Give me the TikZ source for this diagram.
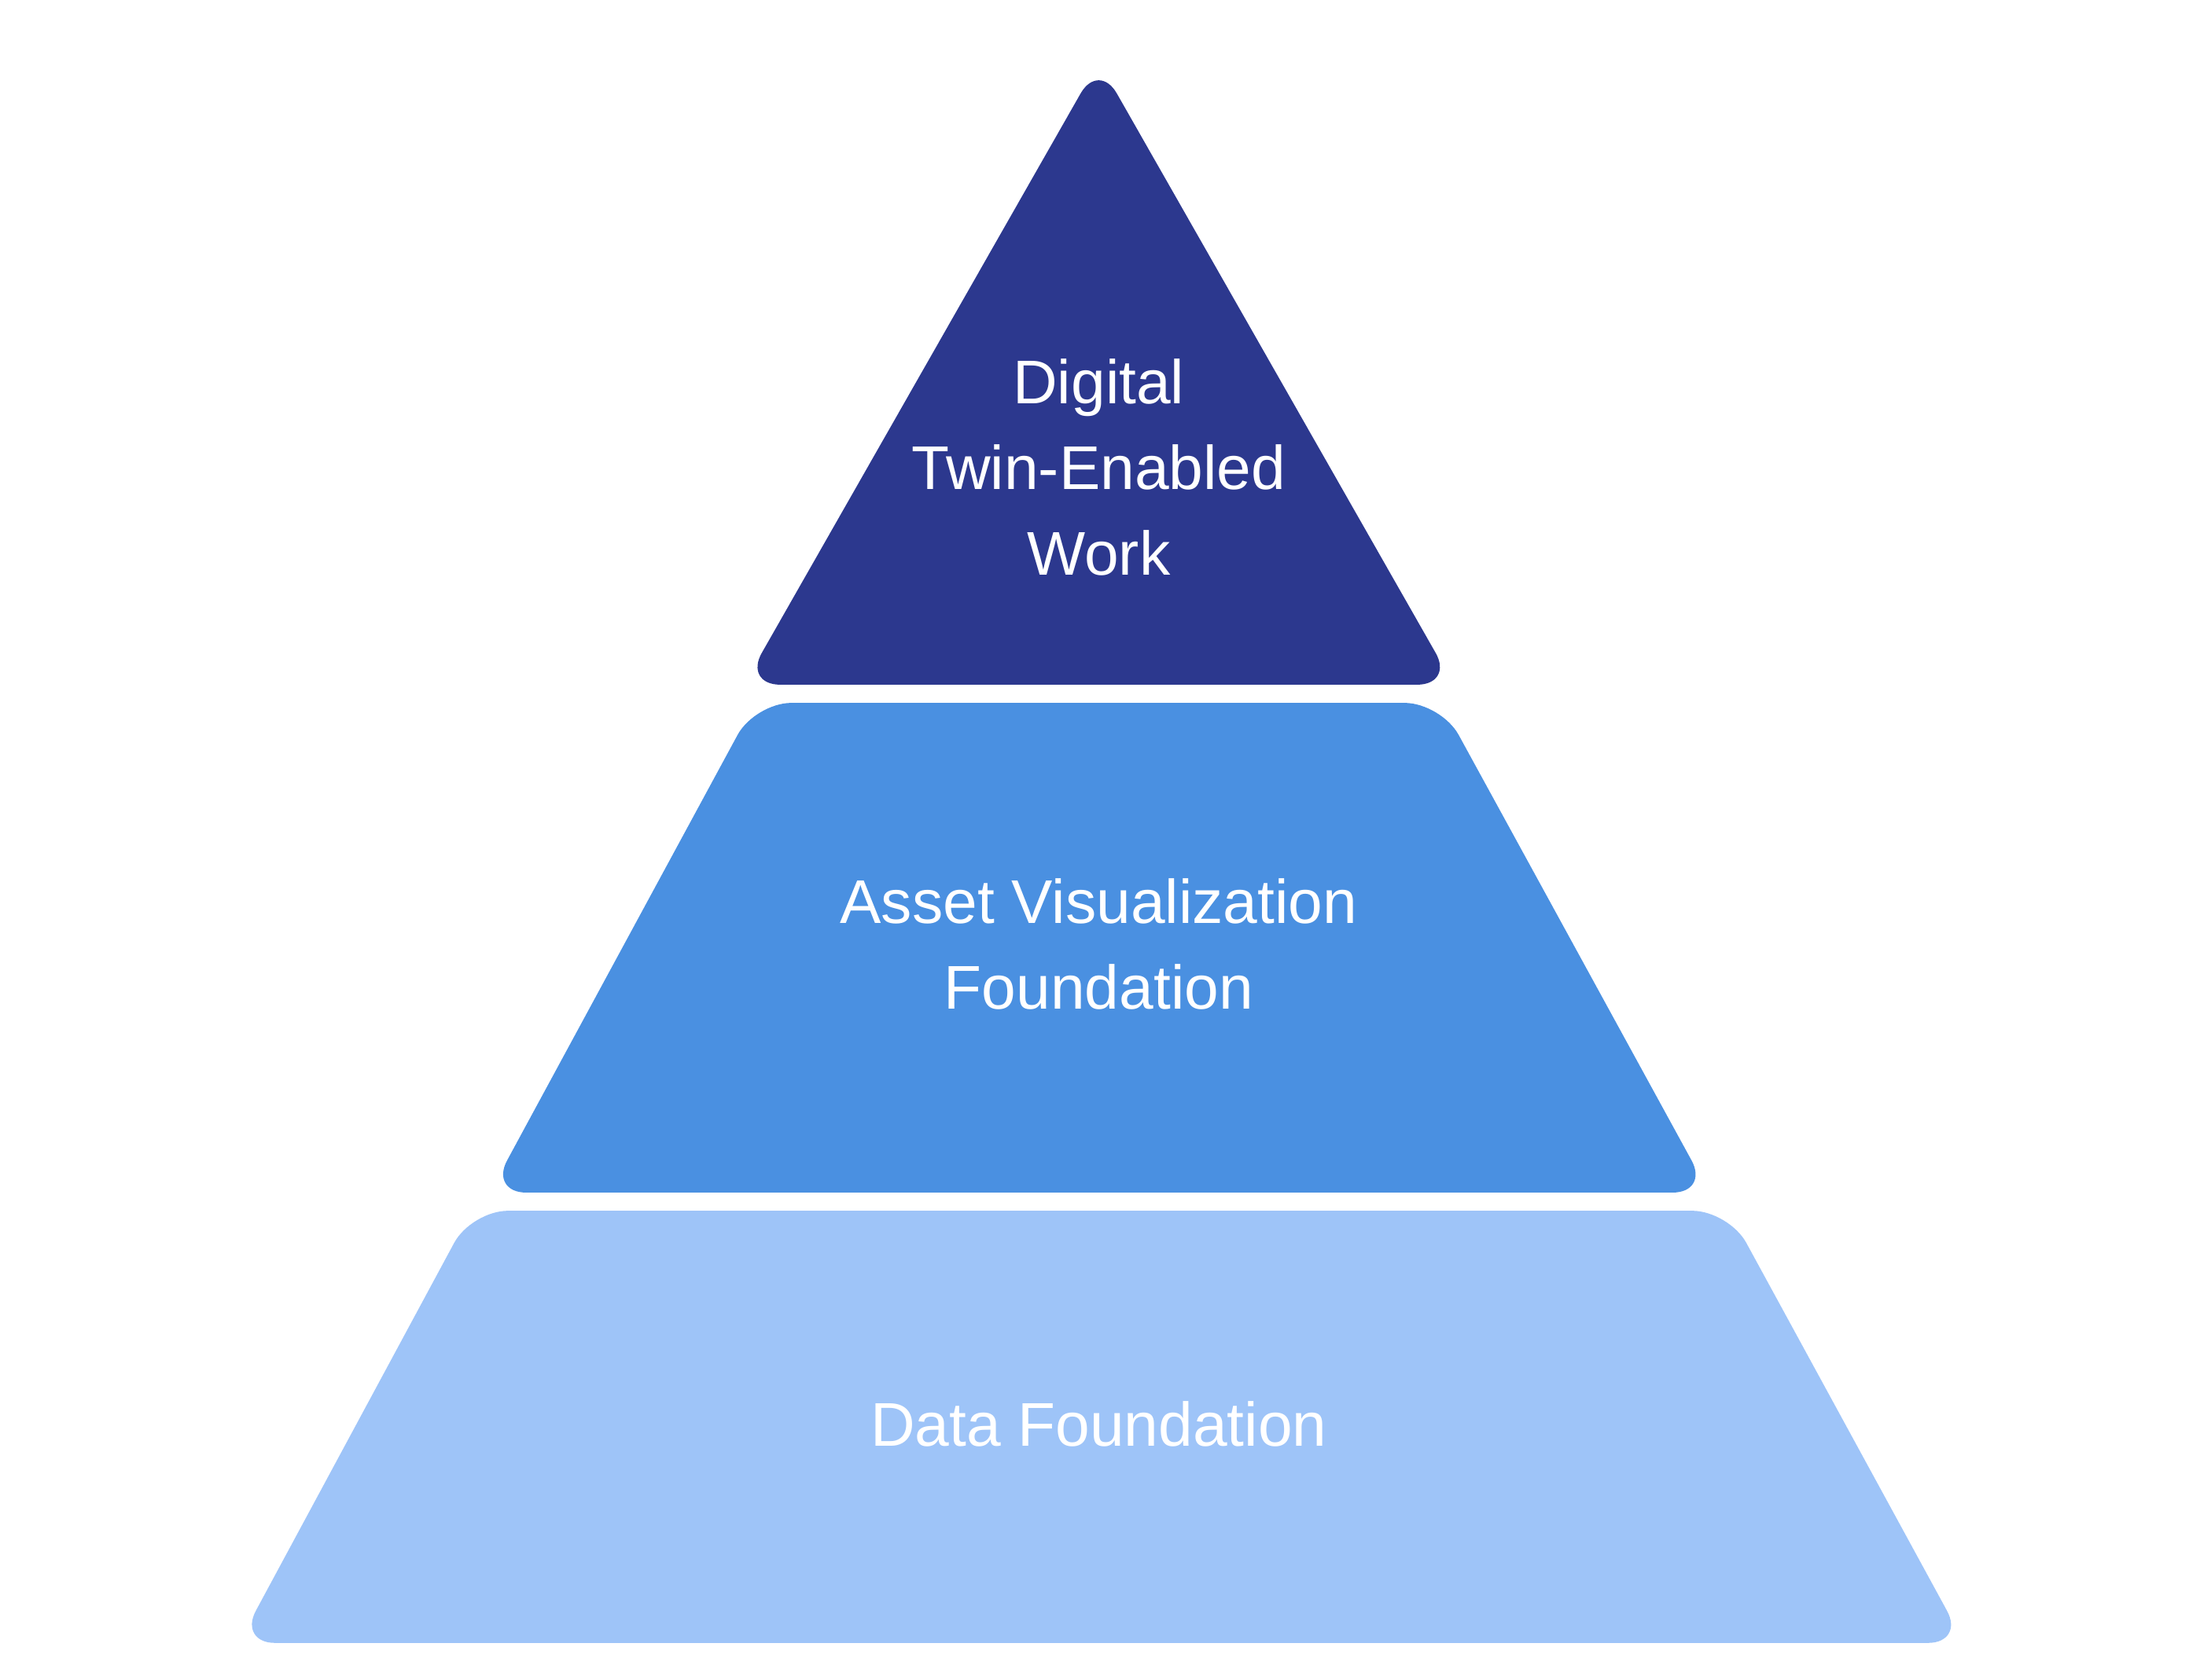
\documentclass[tikz,border=0pt]{standalone}
\usepackage{fontspec}
\setmainfont{Liberation Sans}
\definecolor{cdark}{HTML}{2C388E}
\definecolor{cmid}{HTML}{4A90E1}
\definecolor{clight}{HTML}{9EC4F8}
\begin{document}
\begin{tikzpicture}[x=1pt,y=-1pt,
  tier/.style={rounded corners=26pt},
  lab/.style={text=white,align=center,font=\fontsize{44}{61}\selectfont}]
\useasboundingbox[fill=white] (0,0) rectangle (1560,1197);
\fill[cdark,tier] (783,44) -- (1036,488) -- (530,488) -- cycle;
\fill[cmid,tier] (538,501) -- (1027,501) -- (1218,850) -- (349,850) -- cycle;
\fill[clight,tier] (336,863) -- (1232,863) -- (1400,1171) -- (170,1171) -- cycle;
\node[lab] (t1) at (783,333) {Digital\\Twin-Enabled\\Work};
\node[lab] (t2) at (783,673) {Asset Visualization\\Foundation};
\node[lab] (t3) at (783,1015) {Data Foundation};
\end{tikzpicture}
\end{document}
